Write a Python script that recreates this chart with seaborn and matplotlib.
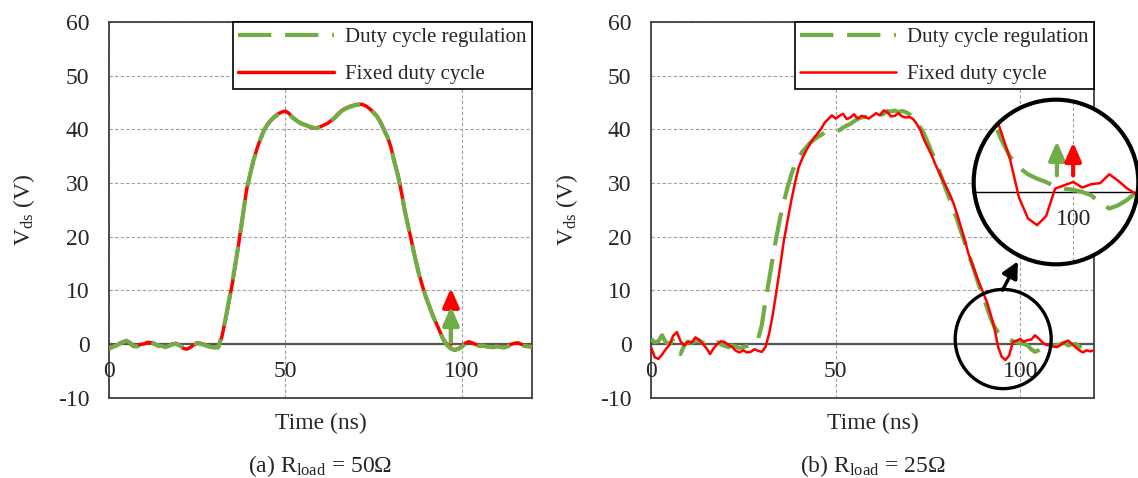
import numpy as np
import matplotlib
matplotlib.use("Agg")
import matplotlib.pyplot as plt
import seaborn as sns
from matplotlib.patches import Circle, Ellipse

# time axis (ns), 1 ns steps
time_ns = np.arange(0, 121)

# (a) R_load = 50 ohm
left_green = [-0.9, -0.6, -0.3, 0.0, 0.3, 0.6, 0.2, -0.4, -0.5, -0.2,
              -0.1, 0.2, 0.3, 0.0, -0.3, -0.4, -0.6, -0.4, -0.1, 0.0,
              -0.3, -0.7, -1.1, -0.8, -0.3, 0.1, 0.0, -0.2, -0.4, -0.6,
              -0.7, -0.6, 1.5, 4.5, 8.0, 11.5, 15.5, 19.5, 24.0, 28.5,
              31.5, 34.2, 36.3, 38.2, 39.8, 40.9, 41.7, 42.3, 42.8, 43.1,
              43.3, 42.9, 42.2, 41.7, 41.3, 41.0, 40.7, 40.5, 40.3, 40.2,
              40.4, 40.7, 41.0, 41.5, 42.1, 42.8, 43.4, 43.8, 44.1, 44.3,
              44.5, 44.6, 44.5, 44.2, 43.7, 43.1, 42.4, 41.3, 39.9, 38.5,
              36.5, 33.8, 31.3, 28.0, 24.5, 21.5, 18.5, 15.5, 12.8, 10.5,
              8.5, 6.8, 5.0, 3.5, 2.0, 0.6, -0.3, -0.9, -1.1, -1.0,
              -0.6, 0.0, 0.3, 0.1, -0.2, -0.4, -0.3, -0.5, -0.6, -0.6,
              -0.5, -0.6, -0.7, -0.5, -0.2, 0.0, 0.1, -0.2, -0.4, -0.5, -0.6]
left_red = [-0.8, -0.5, -0.4, 0.1, 0.4, 0.5, 0.0, -0.5, -0.4, -0.1,
            0.0, 0.3, 0.2, -0.1, -0.4, -0.3, -0.5, -0.3, 0.0, 0.1,
            -0.2, -0.8, -1.0, -0.7, -0.2, 0.2, 0.1, -0.1, -0.5, -0.5,
            -0.6, -0.7, 1.3, 4.3, 7.8, 11.3, 15.3, 19.6, 24.2, 28.6,
            31.6, 34.3, 36.4, 38.3, 39.9, 41.0, 41.8, 42.4, 42.9, 43.2,
            43.4, 43.0, 42.3, 41.8, 41.2, 40.9, 40.8, 40.4, 40.2, 40.3,
            40.5, 40.8, 41.1, 41.6, 42.2, 42.9, 43.5, 43.9, 44.2, 44.4,
            44.6, 44.7, 44.6, 44.3, 43.8, 43.2, 42.5, 41.4, 40.0, 38.6,
            36.6, 33.9, 31.4, 28.1, 24.6, 21.6, 18.6, 15.6, 12.9, 10.6,
            8.6, 6.9, 5.1, 3.6, 2.1, 0.7, -0.2, -0.8, -1.2, -0.9,
            -0.5, 0.1, 0.4, 0.2, -0.1, -0.3, -0.4, -0.4, -0.5, -0.7,
            -0.4, -0.5, -0.6, -0.4, -0.1, 0.1, 0.2, -0.1, -0.3, -0.4, -0.5]

# (b) R_load = 25 ohm
right_green = [0.9, 0.3, 0.5, 1.6, 0.3, 0.0, 0.6, -0.5, -1.9, -0.3,
               0.4, 0.2, 0.5, 0.6, 0.2, 0.3, -0.2, 0.0, 0.3, -0.1,
               -0.4, -0.6, -0.3, -0.5, -0.8, -0.6, -0.4, -0.1, 0.0, 0.8,
               3.5, 8.0, 12.0, 16.1, 20.0, 23.6, 26.5, 29.2, 31.5, 33.5,
               34.8, 35.8, 36.6, 37.4, 38.0, 38.5, 38.9, 39.4, 39.4, 39.7,
               39.8, 39.8, 40.3, 40.7, 41.0, 41.5, 41.9, 42.2, 42.3, 42.4,
               42.5, 42.8, 42.6, 42.9, 43.4, 43.3, 43.5, 43.2, 43.4, 43.2,
               42.8, 42.2, 41.3, 40.3, 39.1, 37.5, 35.8, 34.2, 32.4, 30.5,
               28.6, 26.8, 24.9, 23.0, 20.9, 18.9, 16.8, 14.8, 12.7, 10.6,
               8.7, 6.8, 4.8, 3.2, 2.2, 1.6, 1.2, 0.9, 0.5, 0.3,
               0.2, 0.0, -0.3, -1.0, -1.5, -1.2, -0.7, 0.0, -0.2, -0.3,
               -0.3, 0.0, 0.2, -0.3, -0.1, 0.0, -0.5, -0.9, -0.7, -0.6, -0.6]
right_red = [-0.6, -2.5, -2.8, -2.0, -1.0, -0.2, 1.5, 2.2, 0.5, -0.3,
             0.4, 0.2, 1.2, 0.8, 0.0, -0.8, -1.9, -0.8, 0.0, 0.5,
             0.3, -0.2, -0.6, -1.3, -1.6, -1.2, -1.6, -1.5, -1.0, -1.3,
             -1.5, -0.6, 1.9, 5.5, 9.9, 14.5, 19.3, 23.0, 26.7, 30.0,
             32.9, 34.6, 36.0, 37.2, 38.3, 39.1, 40.0, 41.2, 41.9, 42.6,
             42.0, 42.5, 42.9, 41.9, 42.2, 42.8, 42.0, 42.5, 42.3, 42.0,
             42.5, 43.0, 42.6, 43.5, 43.2, 42.4, 42.5, 43.0, 42.4, 42.2,
             42.3, 41.9, 41.0, 39.8, 38.0, 36.6, 35.2, 33.5, 32.0, 30.6,
             29.2, 27.8, 26.1, 24.0, 21.7, 19.3, 16.8, 14.9, 13.0, 11.2,
             9.5, 7.8, 5.5, 3.0, -0.5, -2.4, -3.0, -2.2, 0.3, 0.6,
             0.9, 0.4, 0.7, 0.8, 1.6, 1.0, 0.3, -0.2, -0.3, -0.5,
             -0.6, -0.2, 0.3, 0.6, 0.0, -0.6, -1.2, -1.6, -1.2, -1.4, -1.2]

x_ticks = [0, 50, 100]
y_ticks = [-10, 0, 10, 20, 30, 40, 50, 60]
captions = ["(a) R$_{\\mathrm{load}}$ = 50Ω", "(b) R$_{\\mathrm{load}}$ = 25Ω"]

GREEN = "#70AD47"
RED = "#FF0000"
DASH = (0, (8, 3.3))

sns.set_theme(style="white")
plt.rcParams["font.family"] = ["Liberation Serif", "DejaVu Serif"]
plt.rcParams["mathtext.fontset"] = "custom"
plt.rcParams["mathtext.rm"] = "Liberation Serif"
plt.rcParams["mathtext.it"] = "Liberation Serif:italic"
plt.rcParams["axes.unicode_minus"] = False

fig = plt.figure(figsize=(11.38, 4.78), dpi=100)
ax1 = fig.add_axes([109 / 1138, 80.5 / 478, 423 / 1138, 375.5 / 478])
ax2 = fig.add_axes([651 / 1138, 80.5 / 478, 443 / 1138, 375.5 / 478])


def style_axes(ax, caption, ylab_x):
    ax.set_xlim(0, 120)
    ax.set_ylim(-10, 60)
    ax.set_xticks(x_ticks)
    ax.set_yticks(y_ticks)
    ax.grid(True, ls=(0, (3, 2)), color="#a0a0a0", lw=0.8)
    ax.axhline(0, color="#555555", lw=1.6, zorder=1.5)
    ax.tick_params(axis="both", length=0, labelsize=17)
    ax.tick_params(axis="y", pad=14)
    ax.tick_params(axis="x", labelbottom=False)
    for s in ax.spines.values():
        s.set_color("#404040")
        s.set_linewidth(1.3)
    for xv in x_ticks:
        ax.text(xv, -5.2, str(xv), ha="center", va="center", fontsize=17)
    ax.set_xlabel("Time (ns)", fontsize=17)
    ax.xaxis.set_label_coords(0.5, -0.04)
    ax.set_ylabel("V$_{\\mathrm{ds}}$ (V)", fontsize=17)
    ax.yaxis.set_label_coords(ylab_x, 0.5)
    ax.text(0.5, -0.182, caption, transform=ax.transAxes, ha="center",
            va="center", fontsize=17)


def add_legend(ax, handles, labels):
    leg = ax.legend(handles, labels, loc="upper right", fontsize=15,
                    borderaxespad=0, handlelength=4.6, handletextpad=0.55,
                    labelspacing=0.84, borderpad=0.25, fancybox=False,
                    framealpha=1, edgecolor="black")
    leg.get_frame().set_linewidth(1.2)


def up_arrow(ax, x, y0, y1, color, lw=3, ms=14):
    ax.annotate("", xy=(x, y1), xytext=(x, y0),
                arrowprops=dict(arrowstyle="-|>,head_length=0.8,head_width=0.35",
                                color=color, lw=lw, shrinkA=0, shrinkB=0,
                                mutation_scale=ms))


# left panel: red first, green on top
sns.lineplot(x=time_ns, y=left_red, ax=ax1, color=RED, lw=2.5,
             label="Fixed duty cycle", estimator=None, zorder=3)
sns.lineplot(x=time_ns, y=left_green, ax=ax1, color=GREEN, lw=3,
             linestyle=DASH, label="Duty cycle regulation", estimator=None,
             zorder=4)
h, l = ax1.get_legend_handles_labels()
style_axes(ax1, captions[0], -0.17)
add_legend(ax1, h[::-1], l[::-1])
up_arrow(ax1, 97, 0, 10.4, RED)
up_arrow(ax1, 97, 0.3, 7.0, GREEN)

# right panel: green first, red on top
sns.lineplot(x=time_ns, y=right_green, ax=ax2, color=GREEN, lw=3,
             linestyle=DASH, label="Duty cycle regulation", estimator=None,
             zorder=3)
sns.lineplot(x=time_ns, y=right_red, ax=ax2, color=RED, lw=1.8,
             label="Fixed duty cycle", estimator=None, zorder=4)
h, l = ax2.get_legend_handles_labels()
style_axes(ax2, captions[1], -0.16)
add_legend(ax2, h, l)
ax2.add_patch(Ellipse((95.4, 0.9), width=26, height=18.5, fill=False,
                      edgecolor="black", lw=2.4, zorder=6))
ax2.annotate("", xy=(99.4, 15.4), xytext=(95.2, 10.0),
             arrowprops=dict(arrowstyle="-|>,head_length=0.7,head_width=0.35",
                             color="black", lw=2.5, shrinkA=0, shrinkB=0,
                             mutation_scale=14))

# magnified inset
ax_in = fig.add_axes([972 / 1138, 212 / 478, 168 / 1138, 168 / 478])
bg = Circle((0.5, 0.5), 0.5, transform=ax_in.transAxes, facecolor="white",
            edgecolor="none", zorder=0)
ax_in.add_patch(bg)
ax_in.axhline(0, color="black", lw=1.0, zorder=1)
ax_in.axvline(100, color="#a0a0a0", lw=0.8, ls=(0, (3, 2)), zorder=1)
sns.lineplot(x=time_ns, y=right_green, ax=ax_in, color=GREEN, lw=3,
             linestyle=DASH, estimator=None, zorder=3)
sns.lineplot(x=time_ns, y=right_red, ax=ax_in, color=RED, lw=1.8,
             estimator=None, zorder=4)
for ln in ax_in.lines:
    ln.set_clip_path(bg)
ax_in.set_xlim(88.8, 107.4)
ax_in.set_ylim(-6.7, 8.5)
ax_in.text(100, -2.5, "100", ha="center", va="center", fontsize=17)
up_arrow(ax_in, 98.2, 1.5, 4.6, GREEN, lw=3)
up_arrow(ax_in, 100, 1.5, 4.5, RED, lw=3)
ax_in.add_patch(Circle((0.5, 0.5), 0.49, transform=ax_in.transAxes,
                       fill=False, edgecolor="black", lw=3, zorder=10,
                       clip_on=False))
ax_in.axis("off")

fig.savefig("out.png", dpi=100)
